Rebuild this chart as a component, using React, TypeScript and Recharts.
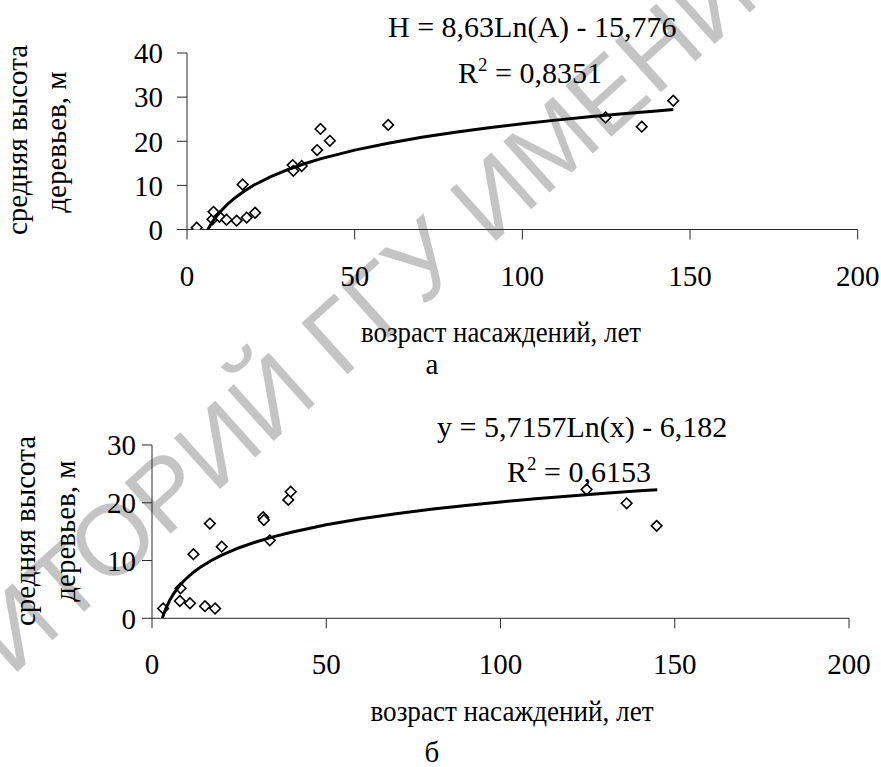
import React from 'react';
import { ScatterChart, Scatter, XAxis, YAxis } from 'recharts';

const FONT = 'Liberation Serif, Times New Roman, DejaVu Serif, serif';

// ---- data: chart а ----
const agesA = [2.9, 7.6, 7.9, 9.7, 11.8, 14.8, 16.6, 17.8, 20.3, 31.5, 31.7, 34.2, 38.8, 39.8, 42.6, 60.0, 124.8, 135.6, 145.0];
const heightsA = [0.4, 2.3, 4.0, 2.9, 2.2, 2.0, 10.2, 2.7, 3.8, 14.6, 13.3, 14.4, 18.0, 22.8, 20.1, 23.7, 25.4, 23.3, 29.2];

// ---- data: chart б ----
const agesB = [3.2, 8.0, 8.2, 10.9, 11.9, 15.2, 16.6, 18.1, 20.0, 31.9, 32.1, 33.8, 39.1, 39.8, 124.7, 136.2, 144.8];
const heightsB = [1.7, 3.0, 5.2, 2.6, 11.1, 2.1, 16.4, 1.7, 12.4, 17.5, 17.0, 13.5, 20.5, 21.9, 22.3, 19.9, 16.0];

// ---- trendlines (coefficients as printed on the chart) ----
const trendCoefA = { slope: 8.63, intercept: -15.776, start: 6.22, end: 145 };
const trendCoefB = { slope: 5.7157, intercept: -6.182, start: 2.95, end: 145 };
const trendAges = [3.5, 4, 5, 6, 7, 8, 9, 10, 12, 14, 17, 20, 25, 30, 35, 40, 50, 60, 70, 80, 90, 100, 110, 120, 130, 140];

// ---- ticks and labels ----
const ticksX = [0, 50, 100, 150, 200];
const ticksYA = [0, 10, 20, 30, 40];
const ticksYB = [0, 10, 20, 30];
const yTitleLines = ['средняя высота', 'деревьев, м'];
const xTitle = 'возраст насаждений, лет';
const eqA = { main: 'H = 8,63Ln(A) - 15,776', r2: ' = 0,8351' };
const eqB = { main: 'y = 5,7157Ln(x) - 6,182', r2: ' = 0,6153' };
const watermark = 'РЕПОЗИТОРИЙ ГГУ ИМЕНИ Ф. СКОРИНЫ';

const toPoints = (xs: number[], ys: number[]) => xs.map((x, i) => ({ x, y: ys[i] }));
const trendPoints = (c: { slope: number; intercept: number; start: number; end: number }) => {
  const xs = [c.start, ...trendAges.filter((a) => a > c.start && a < c.end), c.end];
  return xs.map((x) => ({ x, y: c.slope * Math.log(x) + c.intercept }));
};

const dataA = toPoints(agesA, heightsA);
const dataB = toPoints(agesB, heightsB);
const trendA = trendPoints(trendCoefA);
const trendB = trendPoints(trendCoefB);

const Diamond = (props: any) => {
  const { cx, cy } = props;
  if (cx == null || cy == null) return <g />;
  const r = 5.3;
  return (
    <path
      d={`M${cx},${cy - r}L${cx + r},${cy}L${cx},${cy + r}L${cx - r},${cy}Z`}
      fill="#fff"
      stroke="#000"
      strokeWidth={1.6}
    />
  );
};
const NoShape = () => <g />;

const axisStroke = { stroke: '#2a2a2a', strokeWidth: 1 };
const tickStyle = { fill: '#000', fontSize: 29, style: { fontFamily: FONT } };

function Panel(props: {
  data: { x: number; y: number }[];
  trend: { x: number; y: number }[];
  yMax: number;
  yTicks: number[];
  height: number;
  margin: { top: number; right: number; bottom: number; left: number };
  yTickMargin: number;
  xTickMargin: number;
}) {
  return (
    <ScatterChart width={881} height={props.height} margin={props.margin} style={{ fontFamily: FONT }}>
      <XAxis
        type="number"
        dataKey="x"
        domain={[0, 200]}
        ticks={ticksX}
        interval={0}
        tickSize={10}
        tickMargin={props.xTickMargin}
        axisLine={axisStroke}
        tickLine={axisStroke}
        tick={tickStyle}
        height={30}
        allowDataOverflow
      />
      <YAxis
        type="number"
        dataKey="y"
        domain={[0, props.yMax]}
        ticks={props.yTicks}
        interval={0}
        tickSize={10}
        tickMargin={props.yTickMargin}
        axisLine={axisStroke}
        tickLine={axisStroke}
        tick={tickStyle}
        width={60}
        allowDataOverflow
      />
      <Scatter data={props.data} shape={Diamond} isAnimationActive={false} />
      <Scatter
        data={props.trend}
        shape={NoShape}
        line={{ stroke: '#000', strokeWidth: 3 }}
        lineType="joint"
        isAnimationActive={false}
      />
    </ScatterChart>
  );
}

export default function App() {
  const textStyle = { fontSize: 29, fill: '#000', style: { fontFamily: FONT } };
  const eqStyle = { fontSize: 30, fill: '#000', style: { fontFamily: FONT } };
  return (
    <div style={{ position: 'absolute', left: 0, top: 0, width: 881, height: 767, background: '#fff', overflow: 'hidden', fontFamily: FONT }}>
      <svg width={881} height={767} style={{ position: 'absolute', left: 0, top: 0 }}>
        <text
          transform="translate(-244,907) rotate(-42)"
          style={{ fontFamily: 'Liberation Sans, Arial, sans-serif' }}
          fontSize={100}
          fill="#c4c4c4"
        >
          {watermark}
        </text>
      </svg>
      <div style={{ position: 'absolute', left: 0, top: 0 }}>
        <Panel
          data={dataA}
          trend={trendA}
          yMax={40}
          yTicks={ticksYA}
          height={380}
          margin={{ top: 53, right: 23.3, bottom: 120.5, left: 127 }}
          yTickMargin={14}
          xTickMargin={26}
        />
      </div>
      <div style={{ position: 'absolute', left: 0, top: 380 }}>
        <Panel
          data={dataB}
          trend={trendB}
          yMax={30}
          yTicks={ticksYB}
          height={387}
          margin={{ top: 65, right: 32, bottom: 118.7, left: 92 }}
          yTickMargin={6}
          xTickMargin={25}
        />
      </div>
      <svg width={881} height={767} style={{ position: 'absolute', left: 0, top: 0, pointerEvents: 'none' }}>
        {/* chart а */}
        <text x={27} y={140} transform="rotate(-90 27 140)" textAnchor="middle" {...textStyle}>{yTitleLines[0]}</text>
        <text x={66} y={142} transform="rotate(-90 66 142)" textAnchor="middle" {...textStyle}>{yTitleLines[1]}</text>
        <text x={501} y={342} textAnchor="middle" textLength={280} lengthAdjust="spacingAndGlyphs" {...textStyle}>{xTitle}</text>
        <text x={432} y={374} textAnchor="middle" {...textStyle}>а</text>
        <text x={388} y={37} {...eqStyle}>{eqA.main}</text>
        <text x={458} y={83} {...eqStyle}>
          <tspan>R</tspan>
          <tspan dy={-12} fontSize={19}>2</tspan>
          <tspan dy={12}>{eqA.r2}</tspan>
        </text>
        {/* chart б */}
        <text x={35} y={531} transform="rotate(-90 35 531)" textAnchor="middle" {...textStyle}>{yTitleLines[0]}</text>
        <text x={75} y={531} transform="rotate(-90 75 531)" textAnchor="middle" {...textStyle}>{yTitleLines[1]}</text>
        <text x={512} y={721} textAnchor="middle" textLength={283} lengthAdjust="spacingAndGlyphs" {...textStyle}>{xTitle}</text>
        <text x={432} y={762} textAnchor="middle" {...textStyle}>б</text>
        <text x={437} y={437} {...eqStyle}>{eqB.main}</text>
        <text x={507} y={482} {...eqStyle}>
          <tspan>R</tspan>
          <tspan dy={-12} fontSize={19}>2</tspan>
          <tspan dy={12}>{eqB.r2}</tspan>
        </text>
      </svg>
    </div>
  );
}
